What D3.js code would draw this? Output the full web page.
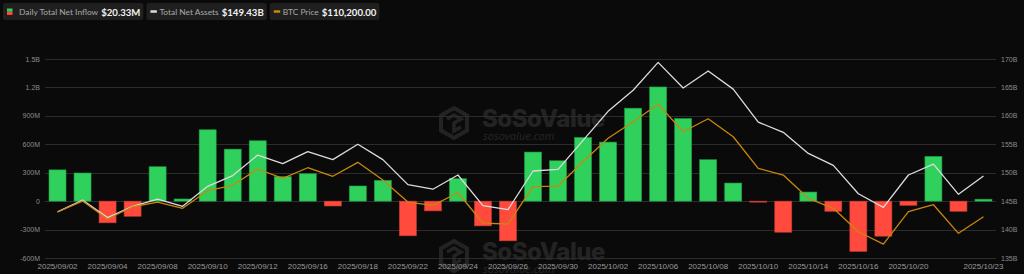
<!DOCTYPE html>
<html><head><meta charset="utf-8">
<script src="https://cdn.jsdelivr.net/npm/d3@7"></script>
<style>
html,body{margin:0;padding:0;background:#0a0a0a;}
svg{display:block;}
</style></head>
<body>
<svg id="chart" width="1024" height="274"></svg>
<script>
const dates = ["2025/09/02","2025/09/03","2025/09/04","2025/09/05","2025/09/08","2025/09/09","2025/09/10","2025/09/11","2025/09/12","2025/09/15","2025/09/16","2025/09/17","2025/09/18","2025/09/19","2025/09/22","2025/09/23","2025/09/24","2025/09/25","2025/09/26","2025/09/29","2025/09/30","2025/10/01","2025/10/02","2025/10/03","2025/10/06","2025/10/07","2025/10/08","2025/10/09","2025/10/10","2025/10/13","2025/10/14","2025/10/15","2025/10/16","2025/10/17","2025/10/20","2025/10/21","2025/10/22","2025/10/23"];
const netInflowM = [330,297,-229,-160,363,23,753,549,637,258,289,-51,160,219,-366,-103,237,-261,-419,518,426,672,623,981,1205,872,437,191,-4.5,-328,96,-107,-531,-370,-44,472,-107,20.33];
const totalNetAssetsB = [143.1,145.2,142.1,144.1,145.35,144.1,147.6,149.5,153.1,151.6,153.7,152.3,155.0,152.3,147.9,147.1,149.6,144.2,143.5,150.3,150.6,155.7,160.8,164.5,169.4,164.9,167.9,164.7,158.9,157.1,153.4,151.3,146.3,143.9,149.6,151.5,146.2,149.43];
const btcPrice = [110830,112290,109900,111530,112160,111320,113670,114390,116560,115320,116730,115590,117450,115090,112160,111720,113400,109360,109230,114200,114290,117530,120650,122860,125200,121530,123260,120860,116650,115760,112650,111320,108200,106560,110870,111800,107990,110200];
const leftTicks = [-600,-300,0,300,600,900,1200,1500];
const leftTickLabels = ["-600M","-300M","0","300M","600M","900M","1.2B","1.5B"];
const rightTicks = [135,140,145,150,155,160,165,170];
const rightTickLabels = ["135B","140B","145B","150B","155B","160B","165B","170B"];
const xLabelIdx = [0,2,4,6,8,10,12,14,16,18,20,22,24,26,28,30,32,34,37];
const legendItems = [
  {label:"Daily Total Net Inflow", value:"$20.33M", type:"bar"},
  {label:"Total Net Assets", value:"$149.43B", type:"white"},
  {label:"BTC Price", value:"$110,200.00", type:"orange"}
];

const GREEN="#30d05d", RED="#ff4a3d", WHITE="#dcdcdc", ORANGE="#c9870b";
const svg = d3.select("#chart");
const L=45, R=996, T=59, B=258;

svg.append("rect").attr("width",1024).attr("height",274).attr("fill","#0a0a0a");

const x = d3.scaleBand().domain(dates).range([L,R]).paddingInner(0.32).paddingOuter(0.16);
const yL = d3.scaleLinear().domain([-600,1500]).range([B,T]);
const yR = d3.scaleLinear().domain([135,170]).range([B,T]);
const yBtc = d3.scaleLinear().domain([104700,131220]).range([B,T]);
const cx = d => x(d)+x.bandwidth()/2;

// watermarks
function watermark(gx, gy){
  const g = svg.append("g").attr("transform",`translate(${gx},${gy})`).attr("opacity",0.14);
  const hex = d3.range(6).map(i=>{const a=Math.PI/3*i-Math.PI/2;return [16+15*Math.cos(a),16+15*Math.sin(a)];});
  g.append("path").attr("d","M"+hex.join("L")+"Z").attr("fill","none").attr("stroke","#bbb").attr("stroke-width",4);
  g.append("path").attr("d","M9,12 L16,8 L23,12 L16,16 L16,24 L23,20").attr("fill","none").attr("stroke","#bbb").attr("stroke-width",3.5);
  g.append("text").attr("x",44).attr("y",20).attr("font-family","Inter, 'Noto Sans', sans-serif").attr("font-weight",800).attr("font-size",24).attr("fill","#bbb").attr("letter-spacing","-0.5").text("SoSoValue");
  g.append("text").attr("x",45).attr("y",33).attr("font-family","'Noto Sans', sans-serif").attr("font-style","italic").attr("font-size",11).attr("fill","#bbb").text("sosovalue.com");
}
watermark(438,107);
watermark(438,240);

// gridlines
svg.append("g").selectAll("line").data(leftTicks).join("line")
  .attr("x1",L).attr("x2",R).attr("y1",d=>Math.round(yL(d))+0.5).attr("y2",d=>Math.round(yL(d))+0.5)
  .attr("stroke","#2c2c2c").attr("stroke-width",1);

// left axis labels
svg.append("g").selectAll("text").data(leftTicks).join("text")
  .attr("x",40).attr("y",d=>yL(d)+2.5).attr("text-anchor","end")
  .attr("font-family","'Liberation Sans', sans-serif").attr("font-size",7).attr("fill","#8a8a8a")
  .text((d,i)=>leftTickLabels[i]);
// right axis labels
svg.append("g").selectAll("text").data(rightTicks).join("text")
  .attr("x",1001).attr("y",d=>yR(d)+2.5).attr("text-anchor","start")
  .attr("font-family","'Liberation Sans', sans-serif").attr("font-size",7).attr("fill","#8a8a8a")
  .text((d,i)=>rightTickLabels[i]);

// x labels
svg.append("g").selectAll("text").data(xLabelIdx).join("text")
  .attr("x",i=>cx(dates[i])).attr("y",269).attr("text-anchor","middle")
  .attr("font-family","'Liberation Sans', sans-serif").attr("font-size",8).attr("fill","#9a9a9a")
  .text(i=>dates[i]);

// bars
svg.append("g").selectAll("rect").data(netInflowM.map((v,i)=>({v,d:dates[i]}))).join("rect")
  .attr("x",d=>x(d.d)).attr("width",x.bandwidth())
  .attr("y",d=>yL(Math.max(0,d.v))).attr("height",d=>Math.max(1,Math.abs(yL(d.v)-yL(0))))
  .attr("fill",d=>d.v>=0?GREEN:RED)
  .attr("stroke",d=>d.v>=0?"#1f9a43":"#c23a30").attr("stroke-width",0.6);

// lines
const lineA = d3.line().x((d,i)=>cx(dates[i])).y(d=>yR(d));
svg.append("path").attr("d",lineA(totalNetAssetsB)).attr("fill","none").attr("stroke",WHITE).attr("stroke-width",1.3).attr("stroke-linejoin","round");
const lineB = d3.line().x((d,i)=>cx(dates[i])).y(d=>yBtc(d));
svg.append("path").attr("d",lineB(btcPrice)).attr("fill","none").attr("stroke",ORANGE).attr("stroke-width",1.3).attr("stroke-linejoin","round");

// legend
let lx = 3;
legendItems.forEach(it=>{
  const g = svg.append("g");
  const bg = g.append("rect").attr("x",lx).attr("y",3).attr("height",17).attr("rx",2.5).attr("fill","#1f1f1f");
  let tx = lx+4;
  if(it.type==="bar"){
    g.append("rect").attr("x",tx).attr("y",8.5).attr("width",5.5).attr("height",3.2).attr("fill",GREEN);
    g.append("rect").attr("x",tx).attr("y",11.7).attr("width",5.5).attr("height",3.2).attr("fill",RED);
    tx += 12;
  } else {
    g.append("rect").attr("x",tx).attr("y",10.3).attr("width",6.5).attr("height",2.5).attr("rx",0.5).attr("fill",it.type==="white"?WHITE:ORANGE);
    tx += 9;
  }
  const t1 = g.append("text").attr("x",tx).attr("y",15.3).attr("font-family","Lato, 'Noto Sans', sans-serif").attr("font-size",8.4).attr("fill","#a8a8a8").text(it.label);
  const w1 = t1.node().getComputedTextLength();
  const t2 = g.append("text").attr("x",tx+w1+3).attr("y",15.5).attr("font-family","Lato, 'Noto Sans', sans-serif").attr("font-weight",700).attr("font-size",9.6).attr("fill","#f2f2f2").text(it.value);
  const w2 = t2.node().getComputedTextLength();
  const wTot = tx+w1+3+w2+3-lx;
  bg.attr("width",wTot);
  lx += wTot+3;
});
</script>
</body></html>
